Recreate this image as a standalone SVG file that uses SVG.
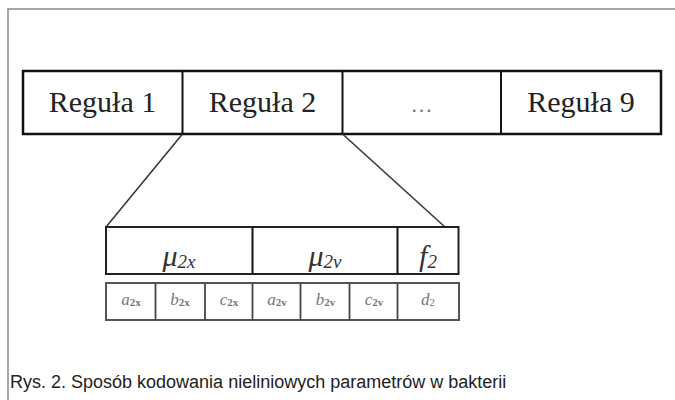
<svg xmlns="http://www.w3.org/2000/svg" width="675" height="400" viewBox="0 0 675 400">
  <style>
    .frame { fill: none; stroke: #8a8a8a; stroke-width: 1.5; }
    .box { fill: #ffffff; stroke: #111111; stroke-width: 2.5; }
    .div { stroke: #111111; stroke-width: 2; }
    .gene { fill: #ffffff; stroke: #222222; stroke-width: 2; }
    .cell { fill: #ffffff; stroke: #555555; stroke-width: 2; }
    .cdiv { stroke: #444444; stroke-width: 1.8; }
    .link { stroke: #333333; stroke-width: 1.5; fill: none; }
    .rule { font-family: "Liberation Serif", "Times New Roman", serif; font-size: 30px; fill: #222222; text-anchor: middle; }
    .dots { font-family: "Liberation Serif", serif; font-size: 22px; fill: #777777; text-anchor: middle; }
    .mu { font-family: "Liberation Serif", serif; font-style: italic; font-size: 30px; fill: #333333; text-anchor: middle; }
    .mu .sub { font-size: 19px; }
    .par { font-family: "Liberation Serif", serif; font-style: italic; font-size: 17px; fill: #777777; text-anchor: middle; }
    .par .sub { font-size: 11px; font-style: normal; font-weight: bold; }
    .caption { font-family: "Liberation Sans", Arial, sans-serif; font-size: 18px; fill: #222222; }
  </style>

  <!-- page frame -->
  <path class="frame" d="M8,400 V9 H675"/>

  <!-- chromosome of nine rules -->
  <g id="rules">
    <rect class="box" x="23" y="71" width="638" height="63"/>
    <line class="div" x1="182.5" y1="71" x2="182.5" y2="134"/>
    <line class="div" x1="342.5" y1="71" x2="342.5" y2="134"/>
    <line class="div" x1="501" y1="71" x2="501" y2="134"/>
  </g>
  <g id="rule1"><text class="rule" x="102.5" y="112">Reguła 1</text></g>
  <g id="rule2"><text class="rule" x="262.5" y="112">Reguła 2</text></g>
  <g id="rule-dots"><text class="dots" x="421.5" y="112">…</text></g>
  <g id="rule9"><text class="rule" x="581" y="112">Reguła 9</text></g>

  <!-- expansion of rule 2 -->
  <g id="connectors">
    <line class="link" x1="182.5" y1="134" x2="106" y2="227"/>
    <line class="link" x1="342.5" y1="134" x2="445" y2="227"/>
  </g>

  <!-- membership functions and output -->
  <g id="genes">
    <rect class="gene" x="106" y="227" width="352.5" height="47"/>
    <line class="div" x1="252.5" y1="227" x2="252.5" y2="274"/>
    <line class="div" x1="397.5" y1="227" x2="397.5" y2="274"/>
    <text class="mu" x="179" y="266">μ<tspan class="sub" dy="2">2x</tspan></text>
    <text class="mu" x="325" y="266">μ<tspan class="sub" dy="2">2v</tspan></text>
    <text class="mu" x="428" y="266">f<tspan class="sub" dy="2">2</tspan></text>
  </g>

  <!-- parameter cells -->
  <g id="params">
    <rect class="cell" x="106" y="283" width="353" height="37"/>
    <line class="cdiv" x1="155.5" y1="283" x2="155.5" y2="320"/>
    <line class="cdiv" x1="205" y1="283" x2="205" y2="320"/>
    <line class="cdiv" x1="252.5" y1="283" x2="252.5" y2="320"/>
    <line class="cdiv" x1="300.5" y1="283" x2="300.5" y2="320"/>
    <line class="cdiv" x1="349.5" y1="283" x2="349.5" y2="320"/>
    <line class="cdiv" x1="397.5" y1="283" x2="397.5" y2="320"/>
    <text class="par" x="131" y="305">a<tspan class="sub" dy="1">2x</tspan></text>
    <text class="par" x="180" y="305">b<tspan class="sub" dy="1">2x</tspan></text>
    <text class="par" x="229" y="305">c<tspan class="sub" dy="1">2x</tspan></text>
    <text class="par" x="277" y="305">a<tspan class="sub" dy="1">2v</tspan></text>
    <text class="par" x="325.5" y="305">b<tspan class="sub" dy="1">2v</tspan></text>
    <text class="par" x="374" y="305">c<tspan class="sub" dy="1">2v</tspan></text>
    <text class="par" x="428" y="305">d<tspan class="sub" dy="1" style="font-weight:normal">2</tspan></text>
  </g>

  <text class="caption" x="10" y="388">Rys. 2. Sposób kodowania nieliniowych parametrów w bakterii</text>
</svg>
